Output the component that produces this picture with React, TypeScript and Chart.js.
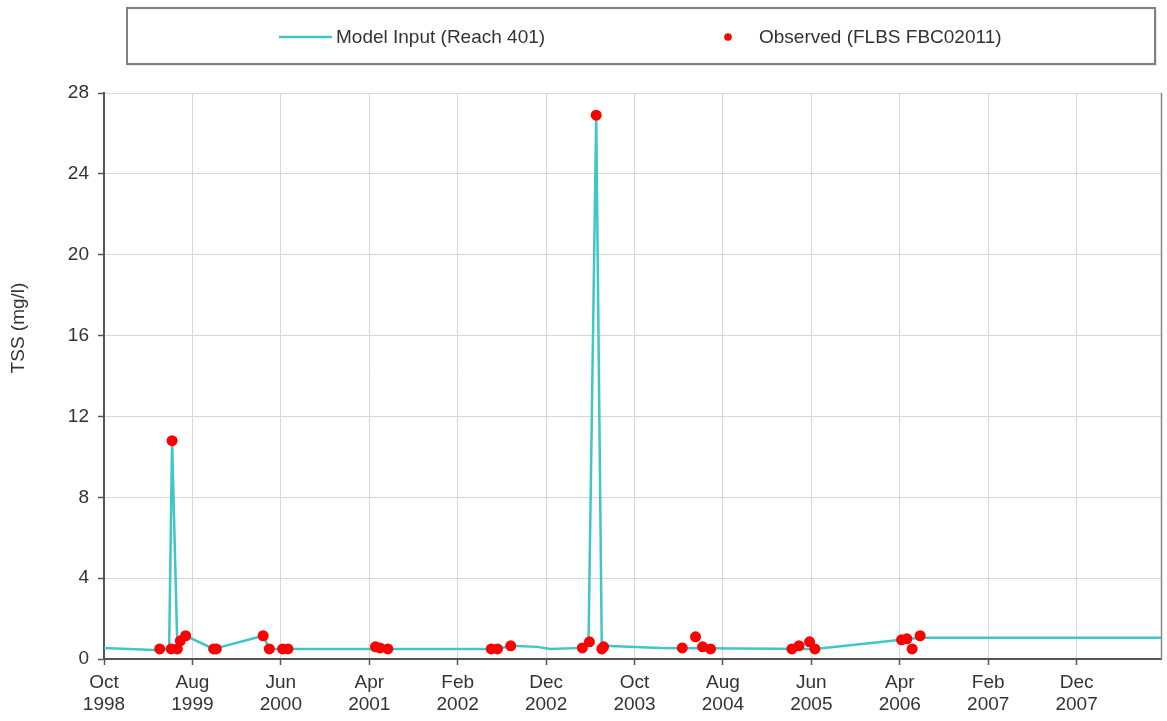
import React, { useEffect, useRef } from "react";
import { Chart, registerables } from "chart.js";

Chart.register(...registerables);

// Model input series (Reach 401): dates and TSS (mg/l)
const modelDates = [
  "1998-10-01", "1999-03-20", "1999-05-12", "1999-05-22", "1999-06-10",
  "1999-06-20", "1999-07-08", "1999-10-13", "2000-04-01", "2000-04-22",
  "2000-06-25", "2001-04-22", "2002-06-16", "2002-08-01", "2002-11-01",
  "2002-12-15", "2003-04-04", "2003-04-25", "2003-05-21", "2003-06-10",
  "2003-06-16", "2004-01-01", "2005-06-13", "2006-04-07", "2006-06-10",
  "2008-09-30",
];
const modelValues = [
  0.55, 0.45, 0.5, 10.8, 0.5,
  0.9, 1.15, 0.5, 1.15, 0.5,
  0.5, 0.5, 0.5, 0.65, 0.6,
  0.5, 0.55, 0.85, 26.9, 0.5,
  0.65, 0.55, 0.5, 0.95, 1.05,
  1.05,
];

// Observed series (FLBS FBC02011)
const obsDates = [
  "1999-04-10", "1999-05-19", "1999-05-22", "1999-06-10", "1999-06-20",
  "1999-07-08", "1999-10-13", "1999-10-22", "2000-04-01", "2000-04-22",
  "2000-06-07", "2000-06-25", "2001-04-22", "2001-05-07", "2001-06-04",
  "2002-05-25", "2002-06-16", "2002-08-01", "2003-04-04", "2003-04-28",
  "2003-05-21", "2003-06-10", "2003-06-16", "2004-03-13", "2004-04-28",
  "2004-05-22", "2004-06-19", "2005-03-25", "2005-04-19", "2005-05-25",
  "2005-06-13", "2006-04-07", "2006-04-25", "2006-05-13", "2006-06-10",
];
const obsValues = [
  0.5, 0.5, 10.8, 0.5, 0.9,
  1.15, 0.5, 0.5, 1.15, 0.5,
  0.5, 0.5, 0.6, 0.55, 0.5,
  0.5, 0.5, 0.65, 0.55, 0.85,
  26.9, 0.5, 0.6, 0.55, 1.1,
  0.6, 0.5, 0.5, 0.65, 0.85,
  0.5, 0.95, 1.0, 0.5, 1.15,
];

// x tick labels every 10 months from Oct 1998
const xTickLabels = [
  ["Oct", "1998"], ["Aug", "1999"], ["Jun", "2000"], ["Apr", "2001"],
  ["Feb", "2002"], ["Dec", "2002"], ["Oct", "2003"], ["Aug", "2004"],
  ["Jun", "2005"], ["Apr", "2006"], ["Feb", "2007"], ["Dec", "2007"],
];

const yTitle = "TSS (mg/l)";
const legendLabels = ["Model Input (Reach 401)", "Observed (FLBS FBC02011)"];

const FONT = "'Liberation Sans', Arial, sans-serif";
const LINE_COLOR = "#3fc6c6";
const DOT_COLOR = "#ff0000";

function monthsSince(s: string): number {
  const [y, m, d] = s.split("-").map(Number);
  return (y - 1998) * 12 + (m - 10) + (d - 1) / 30;
}

const decorPlugin = {
  id: "decor",
  afterDraw(chart: any) {
    const { ctx, chartArea } = chart;
    ctx.save();
    // right border of plot
    ctx.strokeStyle = "#888";
    ctx.lineWidth = 1.5;
    ctx.beginPath();
    ctx.moveTo(chartArea.right, chartArea.top);
    ctx.lineTo(chartArea.right, chartArea.bottom);
    ctx.stroke();

    // y title
    ctx.fillStyle = "#333";
    ctx.font = `19px ${FONT}`;
    ctx.textAlign = "center";
    ctx.textBaseline = "middle";
    ctx.translate(19, 328);
    ctx.rotate(-Math.PI / 2);
    ctx.fillText(yTitle, 0, 0);
    ctx.restore();

    // legend box
    ctx.save();
    const bx = 127, by = 8, bw = 1028, bh = 56;
    ctx.fillStyle = "#e6e6e6";
    ctx.fillRect(bx + 2, by + 2, bw, bh);
    ctx.fillStyle = "#fff";
    ctx.fillRect(bx, by, bw, bh);
    ctx.strokeStyle = "#808080";
    ctx.lineWidth = 2;
    ctx.strokeRect(bx, by, bw, bh);

    const cy = 37;
    ctx.strokeStyle = LINE_COLOR;
    ctx.lineWidth = 2.5;
    ctx.beginPath();
    ctx.moveTo(279, cy);
    ctx.lineTo(332, cy);
    ctx.stroke();
    ctx.fillStyle = "#333";
    ctx.font = `19px ${FONT}`;
    ctx.textAlign = "left";
    ctx.textBaseline = "middle";
    ctx.fillText(legendLabels[0], 336, cy + 1);

    ctx.fillStyle = DOT_COLOR;
    ctx.beginPath();
    ctx.arc(728, cy, 3.8, 0, Math.PI * 2);
    ctx.fill();
    ctx.fillStyle = "#333";
    ctx.fillText(legendLabels[1], 759, cy + 1);
    ctx.restore();
  },
};

export default function App() {
  const ref = useRef<HTMLCanvasElement | null>(null);

  useEffect(() => {
    if (!ref.current) return;
    const modelData = modelDates.map((d, i) => ({ x: monthsSince(d), y: modelValues[i] }));
    const obsData = obsDates.map((d, i) => ({ x: monthsSince(d), y: obsValues[i] }));

    const chart = new Chart(ref.current, {
      type: "scatter",
      data: {
        datasets: [
          {
            label: legendLabels[1],
            data: obsData,
            showLine: false,
            pointRadius: 5.5,
            pointHoverRadius: 5.5,
            pointBackgroundColor: DOT_COLOR,
            pointBorderWidth: 0,
            borderColor: DOT_COLOR,
            order: 0,
          },
          {
            label: legendLabels[0],
            data: modelData,
            showLine: true,
            borderColor: LINE_COLOR,
            borderWidth: 2.5,
            pointRadius: 0,
            tension: 0,
            order: 1,
          },
        ],
      },
      options: {
        responsive: false,
        animation: false,
        layout: { padding: { top: 93, right: -3, left: 0, bottom: 0 } },
        plugins: {
          legend: { display: false },
          tooltip: { enabled: false },
        },
        scales: {
          x: {
            type: "linear",
            min: 0,
            max: 119.6,
            afterBuildTicks: (scale: any) => {
              scale.ticks = xTickLabels.map((_, i) => ({ value: i * 10 }));
            },
            afterFit: (scale: any) => {
              scale.height = 62;
            },
            ticks: {
              autoSkip: false,
              maxRotation: 0,
              padding: 6,
              color: "#333",
              font: { family: FONT, size: 19, lineHeight: 1.2 },
              callback: (v: any) => xTickLabels[Math.round(Number(v) / 10)] ?? "",
            },
            grid: {
              color: "#d6d6d6",
              lineWidth: 1,
              tickLength: 6,
              tickColor: "#555",
              tickWidth: 1.5,
            },
            border: { display: true, color: "#555", width: 2 },
          },
          y: {
            type: "linear",
            min: 0,
            max: 28,
            afterFit: (scale: any) => {
              scale.width = 104;
            },
            ticks: {
              stepSize: 4,
              padding: 9,
              color: "#333",
              font: { family: FONT, size: 19 },
            },
            grid: {
              color: "#d6d6d6",
              lineWidth: 1,
              tickLength: 6,
              tickColor: "#555",
              tickWidth: 1.5,
            },
            border: { display: true, color: "#555", width: 2 },
          },
        },
      },
      plugins: [decorPlugin],
    });
    return () => chart.destroy();
  }, []);

  return (
    <div style={{ position: "fixed", left: 0, top: 0, width: 1167, height: 721, background: "#fff" }}>
      <canvas ref={ref} width={1167} height={721} style={{ display: "block" }} />
    </div>
  );
}
